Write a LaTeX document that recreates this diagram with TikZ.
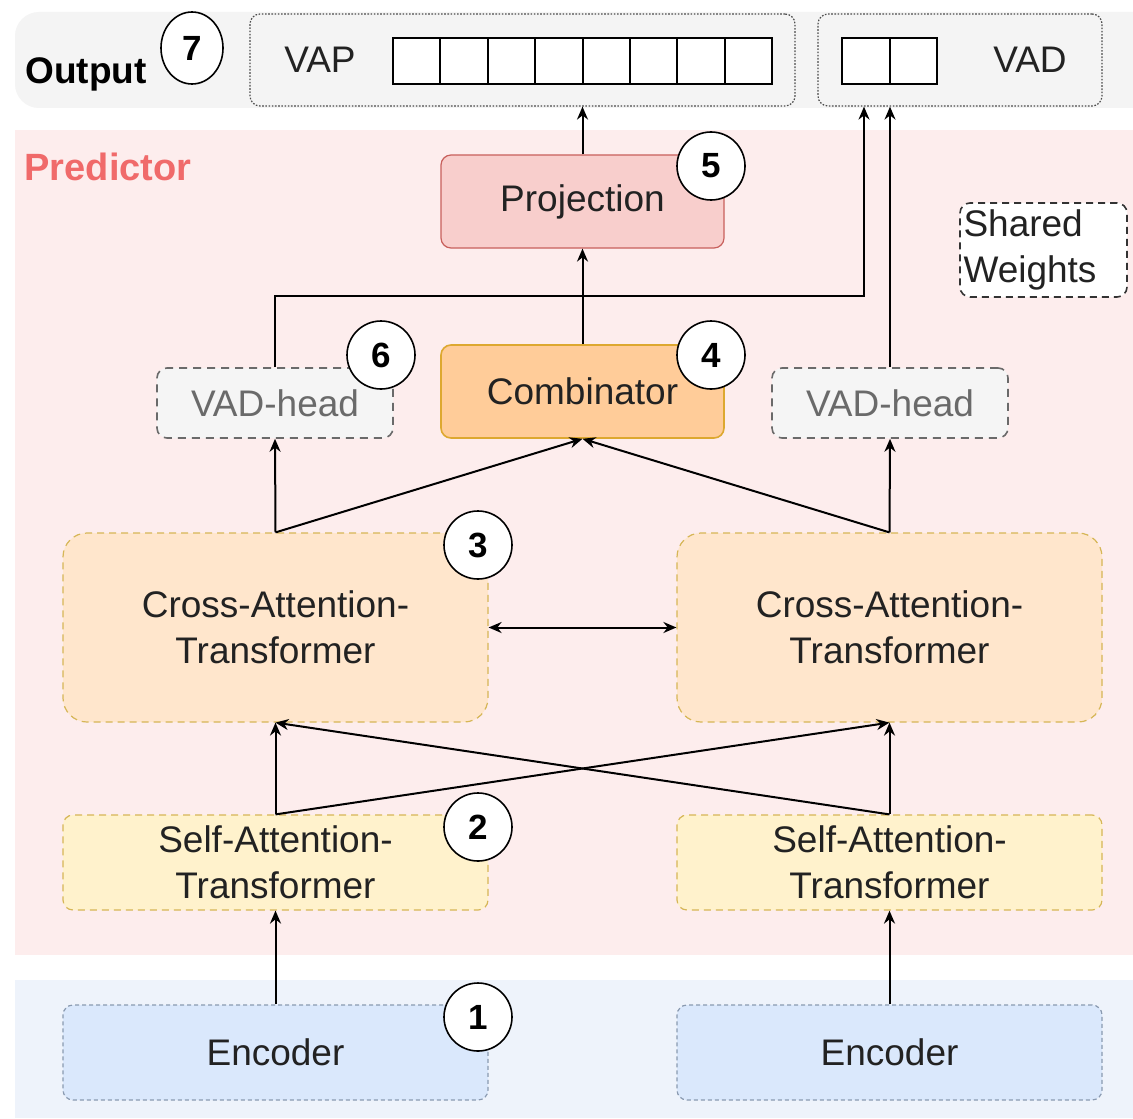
\documentclass[tikz,border=0pt]{standalone}
\usepackage{fontspec}
\setmainfont{Liberation Sans}
\usetikzlibrary{arrows.meta,calc,shapes.geometric}
\definecolor{outband}{HTML}{F4F4F4}
\definecolor{predband}{HTML}{FDEDED}
\definecolor{encband}{HTML}{EEF3FB}
\definecolor{projfill}{HTML}{F8CECC}
\definecolor{projdraw}{HTML}{C8605C}
\definecolor{combfill}{HTML}{FFCC99}
\definecolor{combdraw}{HTML}{DDA830}
\definecolor{crossfill}{HTML}{FFE6CC}
\definecolor{selffill}{HTML}{FFF2CC}
\definecolor{yelldraw}{HTML}{D6B656}
\definecolor{encfill}{HTML}{DAE8FC}
\definecolor{encdraw}{HTML}{8A9AB0}
\definecolor{vadfill}{HTML}{F5F5F5}
\definecolor{vaddraw}{HTML}{6A6A6A}
\definecolor{predred}{HTML}{F06A6A}
\definecolor{txt}{HTML}{222222}
\begin{document}
\begin{tikzpicture}[x=0.5pt,y=-0.5pt,
  font=\fontsize{18.5}{23}\selectfont, text=txt,
  arr/.style={line width=1pt, -{Stealth[length=6.5pt,width=5.5pt]}},
  dblarr/.style={line width=1pt, {Stealth[length=6.5pt,width=5.5pt]}-{Stealth[length=6.5pt,width=5.5pt]}},
  box/.style={rectangle, rounded corners=5pt, align=center, inner sep=0pt},
  projbox/.style={box, fill=projfill, draw=projdraw, line width=0.6pt, minimum width=141.5pt, minimum height=46.5pt},
  combbox/.style={box, fill=combfill, draw=combdraw, line width=0.8pt, minimum width=141.5pt, minimum height=46.5pt},
  vadbox/.style={box, fill=vadfill, draw=vaddraw, line width=0.8pt, dash pattern=on 4pt off 3pt, text=vaddraw, minimum width=118pt, minimum height=35pt},
  crossbox/.style={box, rounded corners=12pt, fill=crossfill, draw=yelldraw, line width=0.6pt, dash pattern=on 3.5pt off 2.5pt, minimum width=212.5pt, minimum height=94.5pt},
  selfbox/.style={box, fill=selffill, draw=yelldraw, line width=0.6pt, dash pattern=on 3.5pt off 2.5pt, minimum width=212.5pt, minimum height=47.5pt},
  encbox/.style={box, fill=encfill, draw=encdraw, line width=0.6pt, dash pattern=on 2pt off 1.5pt, minimum width=212.5pt, minimum height=47.5pt},
  outbox/.style={box, draw=black!70, line width=0.6pt, dash pattern=on 0.8pt off 0.8pt, minimum height=46pt},
  cell/.style={rectangle, draw=black, line width=1pt, fill=white, inner sep=0pt, minimum height=23pt},
  badge/.style={circle, draw=black, line width=0.8pt, fill=white, inner sep=0pt, minimum size=34pt, font=\fontsize{17.5}{20}\selectfont\bfseries, text=black},
  sharedbox/.style={rectangle, rounded corners=5pt, draw=black!80, fill=white, line width=0.8pt, dash pattern=on 3.5pt off 2.5pt, align=left, text width=80pt, inner xsep=1.75pt, inner ysep=0pt, minimum height=47pt}
]
\useasboundingbox (0,0) rectangle (1133,1118);
\fill[white] (0,0) rectangle (1133,1118);
% bands
\fill[outband, rounded corners=12pt] (15,12) rectangle (1160,108);
\fill[predband] (15,130) rectangle (1133,955);
\fill[encband] (15,980) rectangle (1133,1118);

% output
\node[font=\fontsize{18.5}{20}\selectfont\bfseries, text=black] (outlbl) at (86,74) {Output};
\node[badge, ellipse, minimum width=31pt, minimum height=36pt] (b7) at (192,48) {7};
\node[outbox, minimum width=272.5pt] (vapbox) at (522.5,60) {};
\node (vaplbl) at (320,60) {VAP};
\foreach \i in {1,...,8} \node[cell, minimum width=23.7pt] (p\i) at ({393+47.4*(\i-0.5)},61) {};
\node[outbox, minimum width=142pt] (vadout) at (960,60) {};
\foreach \i in {1,2} \node[cell, minimum width=23.75pt] (v\i) at ({842+47.5*(\i-0.5)},61) {};
\node (vadlbl) at (1030,60) {VAD};

% predictor
\node[font=\fontsize{19}{20}\selectfont\bfseries, text=predred] (predlbl) at (108,167) {Predictor};
\node[projbox] (proj) at (582.5,201.5) {Projection};
\node[combbox] (comb) at (582.5,391.5) {Combinator};
\node[vadbox] (vadl) at (275,403) {VAD-head};
\node[vadbox] (vadr) at (890,403) {VAD-head};
\node[sharedbox] (shared) at (1043.5,250) {Shared\\Weights};
\node[crossbox] (crossl) at (275.5,627.5) {Cross-Attention-\\Transformer};
\node[crossbox] (crossr) at (889.5,627.5) {Cross-Attention-\\Transformer};
\node[selfbox] (selfl) at (275.5,862.5) {Self-Attention-\\Transformer};
\node[selfbox] (selfr) at (889.5,862.5) {Self-Attention-\\Transformer};

% encoders
\node[encbox] (encl) at (275.5,1052.5) {Encoder};
\node[encbox] (encr) at (889.5,1052.5) {Encoder};

% connectors
\draw[arr] (proj.north) -- (proj.north |- vapbox.south);
\draw[arr] (comb.north) -- (proj.south);
\coordinate (k1) at (864,296);
\draw[arr] (vadl.north) |- (k1) -- (k1 |- vadout.south);
\draw[arr] (vadr.north) -- (vadr.north |- vadout.south);
\draw[arr] (crossl.north) -- (vadl.south);
\draw[arr] (crossl.north) -- (comb.south);
\draw[arr] (crossr.north) -- (vadr.south);
\draw[arr] (crossr.north) -- (comb.south);
\draw[dblarr] (crossl.east) -- (crossr.west);
\draw[arr] (selfl.north) -- (crossl.south);
\draw[arr] (selfl.north) -- (crossr.south);
\draw[arr] (selfr.north) -- (crossr.south);
\draw[arr] (selfr.north) -- (crossl.south);
\draw[arr] (encl.north) -- (selfl.south);
\draw[arr] (encr.north) -- (selfr.south);

% badges
\node[badge] (b5) at (711,166) {5};
\node[badge] (b4) at (711,355) {4};
\node[badge] (b6) at (381,355) {6};
\node[badge] (b3) at (478,545) {3};
\node[badge] (b2) at (478,827) {2};
\node[badge] (b1) at (478,1017) {1};
\end{tikzpicture}
\end{document}
